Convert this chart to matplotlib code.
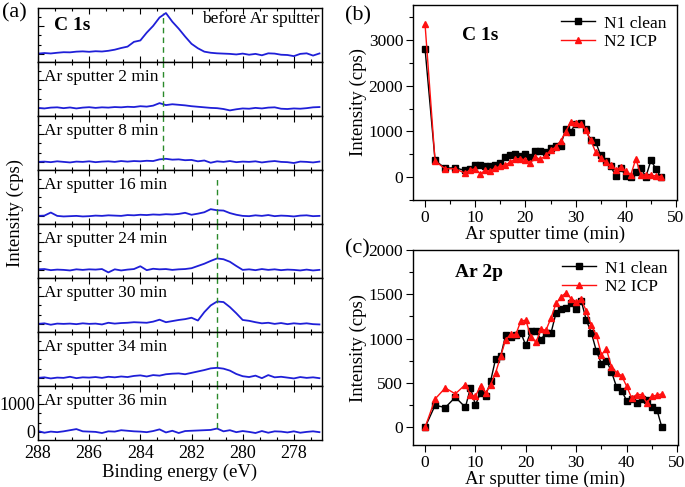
import numpy as np
import matplotlib.pyplot as plt
from matplotlib.ticker import MultipleLocator, AutoMinorLocator

plt.rcParams['font.family'] = ['Liberation Serif', 'DejaVu Serif']
plt.rcParams['axes.linewidth'] = 1.0

# -----------------------------
# DATA  (a) C 1s spectra, 0.25 eV grid
# -----------------------------
energy = np.arange(288.0, 276.9, -0.25)

spec_labels = ["before Ar sputter", "Ar sputter 2 min", "Ar sputter 8 min",
               "Ar sputter 16 min", "Ar sputter 24 min", "Ar sputter 30 min",
               "Ar sputter 34 min", "Ar sputter 36 min"]

spec_before = [10, 30, 15, 40, 60, 55, 80, 90, 75, 95, 85, 110, 150, 210, 260,
               430, 480, 760, 1000, 1300, 1460, 1150, 900, 620, 360, 200, 80,
               40, 20, 10, 0, -20, 10, -30, 0, -50, 20, 10, -30, -40, -80, 0,
               20, -60, 15]
spec_2min = [0, -20, 10, 20, -10, 15, -20, 10, 25, 0, 20, 10, 30, 20, 40, 30,
             60, 45, 80, 170, 100, 130, 110, 90, 60, 40, 20, 0, -10, -40, -90,
             -50, -20, -30, 0, -20, 10, 20, -30, -40, -20, -30, -10, 20, 30]
spec_8min = [0, 10, -10, 20, 0, -20, 10, 0, 20, -10, 10, 20, 0, 30, 10, 30, 20,
             40, 30, 90, 110, 80, 90, 60, 70, 20, 50, -30, 20, 0, 30, -10, 10,
             0, 20, -20, 10, 30, 0, -10, -40, 10, 0, -20, 10]
spec_16min = [0, 10, 120, 0, -20, -10, 0, -20, -10, 10, 0, 20, 10, 0, 30, 20,
              40, 30, 50, 40, 60, 50, 70, 110, 40, 80, 130, 240, 200, 190, 100,
              40, 0, -10, 20, 0, 30, -10, 10, 0, -20, 10, 20, -10, 0]
spec_24min = [20, 30, -10, 10, 0, -20, 20, 0, 20, 10, 30, -90, 20, -20, 10, 30,
              130, -10, 40, 20, 30, 0, 20, 30, 60, 140, 220, 320, 410, 380, 290,
              140, 0, 20, -10, 30, 0, 20, -10, 10, 0, -20, 10, -20, 0]
spec_30min = [0, 20, -30, 10, 0, 10, -10, 20, 0, 10, -20, 40, 10, 30, 40, 60,
              50, 40, 80, 150, 60, 100, 140, 170, 220, 120, 420, 660, 800, 780,
              600, 380, 140, 110, 60, 20, 40, 0, 30, -10, 20, 0, 20, -10, -20]
spec_34min = [0, 20, -20, 10, 0, 40, -10, 20, 10, 30, 0, 40, 20, 50, 30, 70,
              90, 50, 100, 80, 130, 150, 160, 130, 180, 230, 280, 340, 360, 330,
              260, 140, 60, 30, 80, -10, 100, 20, 40, 10, -20, 30, 0, 20, -10]
spec_36min = [30, -30, 10, -10, 20, 60, 100, 20, 10, 0, -40, 20, 10, 60, 40,
              20, 10, -10, 30, 90, -20, 40, -40, 30, 40, 50, 60, 70, 120, 20,
              60, -10, 30, 0, -40, 30, -30, 20, 10, -20, 20, -30, 0, 20, -10]

spectra = [spec_before, spec_2min, spec_8min, spec_16min,
           spec_24min, spec_30min, spec_34min, spec_36min]

# -----------------------------
# DATA  (b) C 1s and (c) Ar 2p vs sputter time
# -----------------------------
sputter_time = [0, 2, 4, 6] + list(range(8, 48))

c1s_n1 = [2810, 366, 198, 205, 146, 183, 256, 270, 241, 249, 270, 307, 439,
          475, 497, 461, 512, 439, 563, 563, 549, 640, 680, 690, 1046, 990,
          1170, 1185, 1046, 805, 768, 475, 351, 234, 30, 200, 20, 0, 110, 200,
          10, 366, 183, 0]
c1s_n2 = [3350, 351, 183, 183, 88, 161, 183, 73, 146, 132, 205, 234, 270, 329,
          402, 402, 380, 315, 439, 388, 475, 585, 658, 790, 990, 1207, 1192,
          1156, 1024, 805, 549, 424, 329, 256, 161, 219, 132, 50, 402, 50, 50,
          40, 30, 10]

ar2p_n1 = [0, 249, 222, 339, 226, 444, 252, 388, 350, 520, 772, 802, 1043,
           1020, 1036, 1066, 923, 1085, 1085, 990, 1066, 1066, 1292, 1330, 1348,
           1405, 1330, 1424, 1209, 1066, 859, 719, 753, 625, 456, 414, 301, 324,
           275, 320, 313, 226, 200, 0]
ar2p_n2 = [0, 320, 444, 377, 482, 369, 350, 471, 388, 482, 614, 802, 990, 1047,
           1047, 1198, 1209, 1020, 960, 1104, 1096, 1235, 1397, 1473, 1518,
           1450, 1412, 1443, 1311, 1149, 1036, 821, 878, 682, 614, 584, 463, 331,
           369, 369, 275, 350, 362, 377]

W, H = 685, 487
fig = plt.figure(figsize=(W / 100, H / 100), dpi=100)

blue = '#1f1fd8'
green = '#2a8a2a'

# -----------------------------
# PANEL (a)
# -----------------------------
top_px, h_px = 8, 54
left_a, width_a = 38 / W, 284 / W
ylo, yhi = -290, 1640
for i, (lab, vals) in enumerate(zip(spec_labels, spectra)):
    bottom = 1 - (top_px + h_px * (i + 1)) / H
    ax = fig.add_axes([left_a, bottom, width_a, h_px / H])
    ax.plot(energy, vals, color=blue, lw=1.3)
    ax.set_xlim(288, 276.9)
    ax.set_ylim(ylo, yhi)
    ax.xaxis.set_major_locator(MultipleLocator(2))
    ax.xaxis.set_minor_locator(AutoMinorLocator(3))
    ax.yaxis.set_major_locator(MultipleLocator(1000))
    ax.yaxis.set_minor_locator(AutoMinorLocator(3))
    ax.tick_params(which='both', direction='in', top=True, bottom=True,
                   left=True, right=False, labelsize=13)
    ax.tick_params(which='major', length=4, width=0.8)
    ax.tick_params(which='minor', length=2.5, width=0.8)
    if i < 7:
        ax.tick_params(labelbottom=False, labelleft=False)
    else:
        ax.set_xlabel("Binding energy (eV)", fontsize=13.5, labelpad=1)
        ax.tick_params(axis='y', pad=2)

    if i == 0:
        ax.text(0.992, 0.80, lab, transform=ax.transAxes, ha='right',
                va='center', fontsize=12.5)
        ax.text(0.055, 0.68, "C 1s", transform=ax.transAxes, ha='left',
                va='center', fontsize=14, fontweight='bold')
        ax.axvline(283.1, ymin=0, ymax=(1460 - ylo) / (yhi - ylo),
                   color=green, ls=(0, (4, 3)), lw=1.0)
    else:
        ax.text(0.02, 0.72, lab, transform=ax.transAxes, ha='left',
                va='center', fontsize=12.5)
    if i in (1, 2):
        ax.axvline(283.1, color=green, ls=(0, (4, 3)), lw=1.0)
    if i == 3:
        ax.axvline(281.0, ymin=0, ymax=0.87, color=green, ls=(0, (4, 3)), lw=1.0)
    if i in (4, 5, 6):
        ax.axvline(281.0, color=green, ls=(0, (4, 3)), lw=1.0)
    if i == 7:
        ax.axvline(281.0, ymin=(150 - ylo) / (yhi - ylo), ymax=1,
                   color=green, ls=(0, (4, 3)), lw=1.0)

fig.text(15 / W, 1 - 213 / H, "Intensity (cps)", rotation=90, ha='center',
         va='center', fontsize=13.5)
fig.text(14 / W, 1 - 13 / H, "(a)", ha='center', va='center', fontsize=16)


# -----------------------------
# PANELS (b) and (c)
# -----------------------------
def time_panel(rect, n1, n2, ylim, major, minor, title, title_xy):
    ax = fig.add_axes(rect)
    ax.plot(sputter_time, n1, color='black', marker='s', ms=4, lw=1.0,
            label="N1 clean")
    ax.plot(sputter_time, n2, color='#ff1010', marker='^', ms=4.5, lw=1.0,
            label="N2 ICP")
    ax.set_xlim(-2.4, 50.2)
    ax.set_ylim(*ylim)
    ax.xaxis.set_major_locator(MultipleLocator(10))
    ax.xaxis.set_minor_locator(MultipleLocator(5))
    ax.yaxis.set_major_locator(MultipleLocator(major))
    ax.yaxis.set_minor_locator(MultipleLocator(minor))
    ax.tick_params(which='both', direction='out', labelsize=12.5, pad=2)
    ax.tick_params(which='major', length=5, width=0.8)
    ax.tick_params(which='minor', length=3, width=0.8)
    ax.set_xlabel("Ar sputter time (min)", fontsize=13.5, labelpad=0)
    ax.set_ylabel("Intensity (cps)", fontsize=13.5, labelpad=1)
    ax.text(title_xy[0], title_xy[1], title, fontsize=14, fontweight='bold',
            ha='left', va='center')
    ax.legend(loc='upper right', frameon=False, fontsize=12.5,
              handlelength=2.0, handletextpad=0.5, labelspacing=0.15,
              borderaxespad=0.2)
    return ax


time_panel([413 / W, 1 - 200 / H, 264 / W, 195 / H], c1s_n1, c1s_n2,
           (-500, 3770), 1000, 500, "C 1s", (7.3, 3110))
time_panel([413 / W, 1 - 445 / H, 265 / W, 195 / H], ar2p_n1, ar2p_n2,
           (-200, 2000), 500, 250, "Ar 2p", (6, 1750))

fig.text(358 / W, 1 - 16 / H, "(b)", ha='center', va='center', fontsize=16)
fig.text(357 / W, 1 - 249 / H, "(c)", ha='center', va='center', fontsize=16)

fig.savefig("out.png", dpi=100)
